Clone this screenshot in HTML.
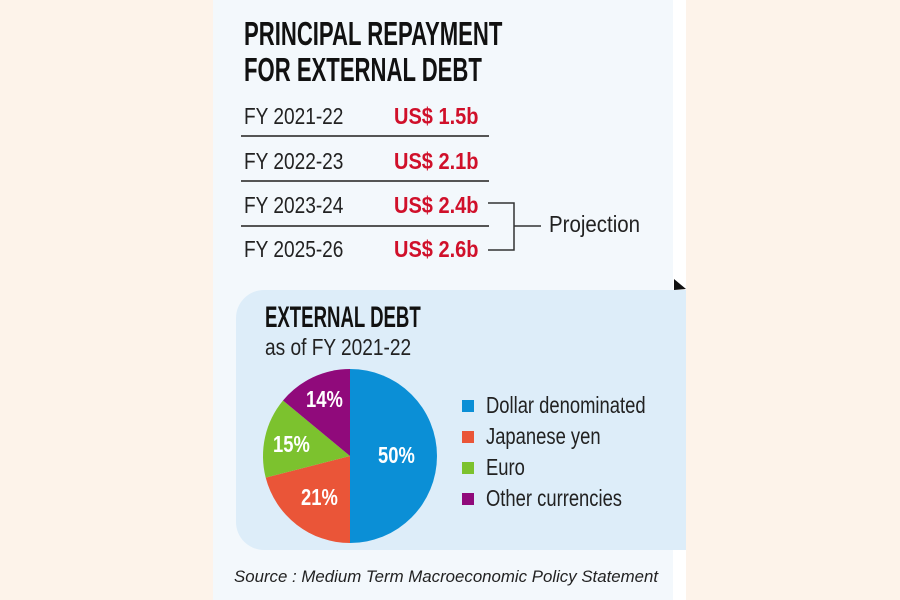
<!DOCTYPE html>
<html><head><style>
body{margin:0;width:900px;height:600px;background:#fdf3ea;position:relative;overflow:hidden;font-family:"Liberation Sans",sans-serif}
.p{position:absolute;left:213px;top:0;width:460px;height:600px;background:#f3f8fc}
.w{position:absolute;left:673px;top:0;width:13px;height:600px;background:#fff}
.t{position:absolute;white-space:nowrap;transform-origin:0 0}
.h{font-weight:bold;font-size:33px;color:#111;line-height:36px;transform:scaleX(0.67)}
.fy{font-size:23px;color:#222;transform:scaleX(0.83)}
.r{font-size:23px;font-weight:bold;color:#d0102a;transform:scaleX(0.87)}
.ln{position:absolute;left:241px;width:248px;height:2px;background:#555}
.lg{font-size:23px;color:#222;transform:scaleX(0.8)}
.sq{position:absolute;width:12px;height:12px}
</style></head><body>
<div class="p"></div><div class="w"></div>
<div class="t h" style="left:244px;top:16px">PRINCIPAL REPAYMENT<br>FOR EXTERNAL DEBT</div>
<div class="t fy" style="left:244px;top:103px">FY 2021-22</div>
<div class="t r" style="left:394px;top:103px">US$ 1.5b</div>
<div class="ln" style="top:135px"></div>
<div class="t fy" style="left:244px;top:148px">FY 2022-23</div>
<div class="t r" style="left:394px;top:148px">US$ 2.1b</div>
<div class="ln" style="top:180px"></div>
<div class="t fy" style="left:244px;top:192px">FY 2023-24</div>
<div class="t r" style="left:394px;top:192px">US$ 2.4b</div>
<div class="ln" style="top:225px"></div>
<div class="t fy" style="left:244px;top:236px">FY 2025-26</div>
<div class="t r" style="left:394px;top:236px">US$ 2.6b</div>
<svg style="position:absolute;left:0;top:0" width="900" height="600">
<path d="M488 203H514V250H488M514 226H541" fill="none" stroke="#333" stroke-width="1.5"/>
<path d="M674 279L686 289L674 290Z" fill="#111"/>
</svg>
<div class="t fy" style="left:549px;top:211px;transform:scaleX(0.89)">Projection</div>
<div style="position:absolute;left:236px;top:290px;width:450px;height:260px;background:#ddedf9;border-radius:28px 0 0 28px"></div>
<div class="t h" style="left:265px;top:300px;font-size:30px;line-height:36px;transform:scaleX(0.62)">EXTERNAL DEBT</div>
<div class="t fy" style="left:265px;top:334px;font-size:23px">as of FY 2021-22</div>
<svg style="position:absolute;left:0;top:0" width="900" height="600">
<g transform="translate(350,456)">
<path d="M0 0V-87A87 87 0 0 1 0 87Z" fill="#0b8fd6"/>
<path d="M0 0V87A87 87 0 0 1 -84.3 21.6Z" fill="#ea5538"/>
<path d="M0 0L-84.3 21.6A87 87 0 0 1 -67 -55.5Z" fill="#7cc22e"/>
<path d="M0 0L-67 -55.5A87 87 0 0 1 0 -87Z" fill="#900a7b"/>
</g>
<g font-family="Liberation Sans,sans-serif" font-weight="bold" font-size="23" fill="#fff">
<text transform="translate(378,463) scale(0.8,1)">50%</text>
<text transform="translate(301,505) scale(0.8,1)">21%</text>
<text transform="translate(273,452) scale(0.8,1)">15%</text>
<text transform="translate(306,407) scale(0.8,1)">14%</text>
</g>
</svg>
<div class="sq" style="left:462px;top:400px;background:#0b8fd6"></div>
<div class="sq" style="left:462px;top:431px;background:#ea5538"></div>
<div class="sq" style="left:462px;top:462px;background:#7cc22e"></div>
<div class="sq" style="left:462px;top:493px;background:#900a7b"></div>
<div class="t lg" style="left:486px;top:392px">Dollar denominated</div>
<div class="t lg" style="left:486px;top:423px">Japanese yen</div>
<div class="t lg" style="left:486px;top:454px">Euro</div>
<div class="t lg" style="left:486px;top:485px">Other currencies</div>
<div class="t" style="left:234px;top:567px;font-style:italic;font-size:17px;color:#222;transform:scaleX(0.99)">Source : Medium Term Macroeconomic Policy Statement</div>
</body></html>
